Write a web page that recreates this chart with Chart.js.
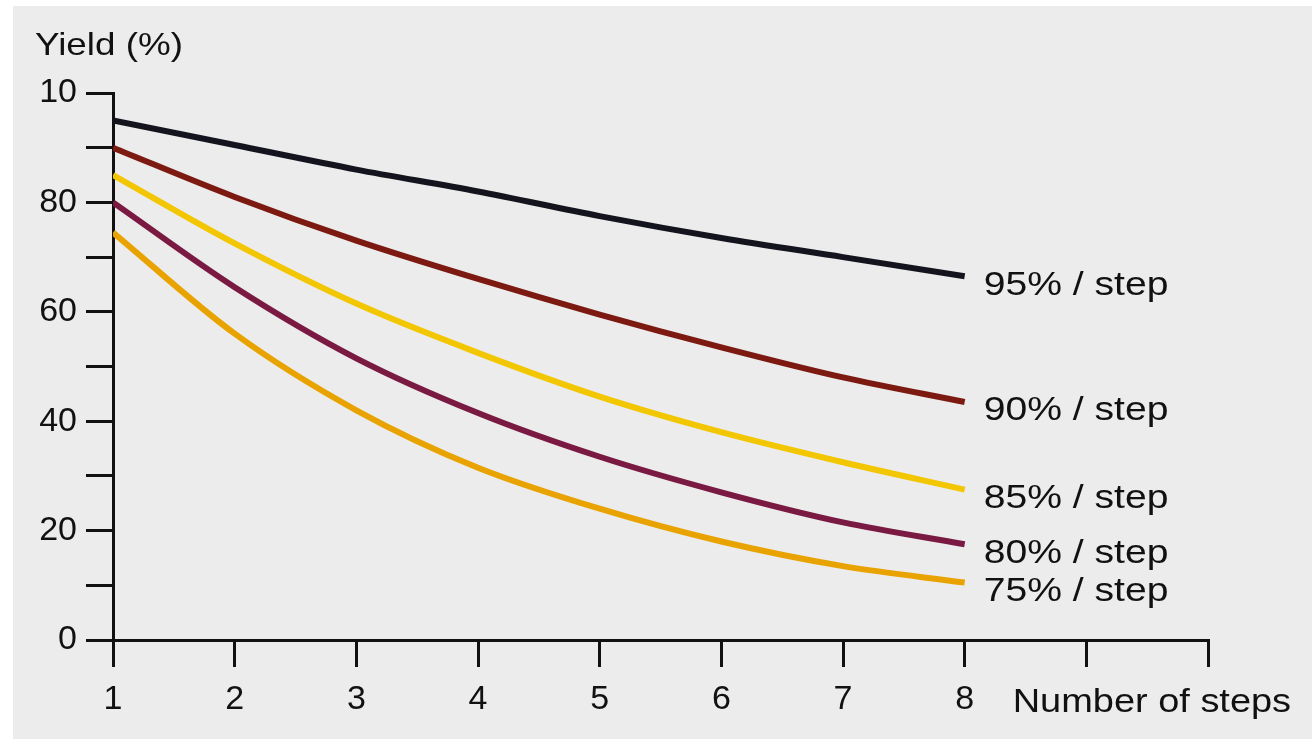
<!DOCTYPE html>
<html>
<head>
<meta charset="utf-8">
<script src="https://cdn.jsdelivr.net/npm/chart.js@4/dist/chart.umd.min.js"></script>
<style>
  html, body { margin: 0; padding: 0; background: #fff; }
  #wrap { width: 1312px; height: 739px; position: relative; }
</style>
</head>
<body>
<div id="wrap"><canvas id="yieldChart"></canvas></div>
<script>
// values
const steps = [1, 2, 3, 4, 5, 6, 7, 8];
const yield95 = [95, 90.5, 86, 82, 77.5, 73.5, 70, 66.5];
const yield90 = [90, 81, 73, 66, 59.5, 53.5, 48, 43.5];
const yield85 = [85, 72.5, 61.5, 52.5, 44.5, 38, 32.5, 27.5];
const yield80 = [80, 64.5, 51.5, 41.5, 33.5, 27, 21.5, 17.5];
const yield75 = [74.5, 56, 42, 31.5, 24, 18, 13.5, 10.5];
const seriesLabels = ['95% / step', '90% / step', '85% / step', '80% / step', '75% / step'];
const seriesColors = ['#14141e', '#7c1a12', '#f2c600', '#7a1a42', '#e9a300'];
const lastLabelledStep = 8;

const FONT = "'Liberation Sans', Arial, Helvetica, sans-serif";

const toPoints = vals => vals.map((v, i) => ({ x: steps[i], y: v }));

// the lettering in the figure is a little wider than Arial
function wideText(c, text, x, y, size) {
    c.save();
    c.font = size + 'px ' + FONT;
    c.translate(x, y);
    c.scale(1.15, 1);
    c.fillText(text, 0, 0);
    c.restore();
}

const pageBackground = {
    id: 'pageBackground',
    beforeDraw(chart) {
        const c = chart.ctx;
        c.save();
        c.fillStyle = '#ffffff';
        c.fillRect(0, 0, chart.width, chart.height);
        c.fillStyle = '#ececec';
        c.fillRect(13, 6, chart.width - 13, chart.height - 6);
        c.restore();
    }
};

// text at the end of each curve, plus the axis captions
const captions = {
    id: 'captions',
    afterDatasetsDraw(chart) {
        const c = chart.ctx;
        c.save();
        c.fillStyle = '#111';
        c.textBaseline = 'middle';
        c.textAlign = 'left';
        chart.data.datasets.forEach((ds, i) => {
            const pts = chart.getDatasetMeta(i).data;
            const end = pts[pts.length - 1];
            wideText(c, ds.label, end.x + 19, end.y + 9, 34);
        });
        wideText(c, 'Yield (%)', 35, 46, 32);
        const x = chart.scales.x;
        wideText(c, 'Number of steps', x.getPixelForValue(8) + 48, 703, 33);
        c.restore();
    }
};

const datasets = [yield95, yield90, yield85, yield80, yield75].map((vals, i) => ({
    label: seriesLabels[i],
    data: toPoints(vals),
    borderColor: seriesColors[i],
    borderWidth: 6,
    borderCapStyle: 'butt',
    pointRadius: 0,
    cubicInterpolationMode: 'monotone',
    fill: false
}));

new Chart(document.getElementById('yieldChart'), {
    type: 'line',
    data: { datasets },
    options: {
        responsive: true,
        maintainAspectRatio: false,
        animation: false,
        layout: { padding: { top: 93, right: 104, left: 0, bottom: 0 } },
        plugins: {
            legend: { display: false },
            tooltip: { enabled: false }
        },
        scales: {
            x: {
                type: 'linear',
                min: 1,
                max: 10,
                afterFit: s => { s.height = 99; },
                border: { display: true, color: '#111', width: 3 },
                grid: { drawOnChartArea: false, drawTicks: true, tickLength: 27, color: '#111', lineWidth: 3 },
                ticks: {
                    stepSize: 1,
                    padding: 12,
                    color: '#111',
                    font: { family: FONT, size: 34 },
                    maxRotation: 0,
                    callback: v => (v <= lastLabelledStep ? v : '')
                }
            },
            y: {
                min: 0,
                max: 100,
                afterFit: s => { s.width = 113; },
                border: { display: true, color: '#111', width: 3 },
                grid: { drawOnChartArea: false, drawTicks: true, tickLength: 27, color: '#111', lineWidth: 3 },
                ticks: {
                    stepSize: 10,
                    padding: 9,
                    color: '#111',
                    font: { family: FONT, size: 34 },
                    // the top label reads "10" in the figure
                    callback: v => (v % 20 === 0 ? (v === 100 ? '10' : v) : '')
                }
            }
        }
    },
    plugins: [pageBackground, captions]
});
</script>
</body>
</html>
